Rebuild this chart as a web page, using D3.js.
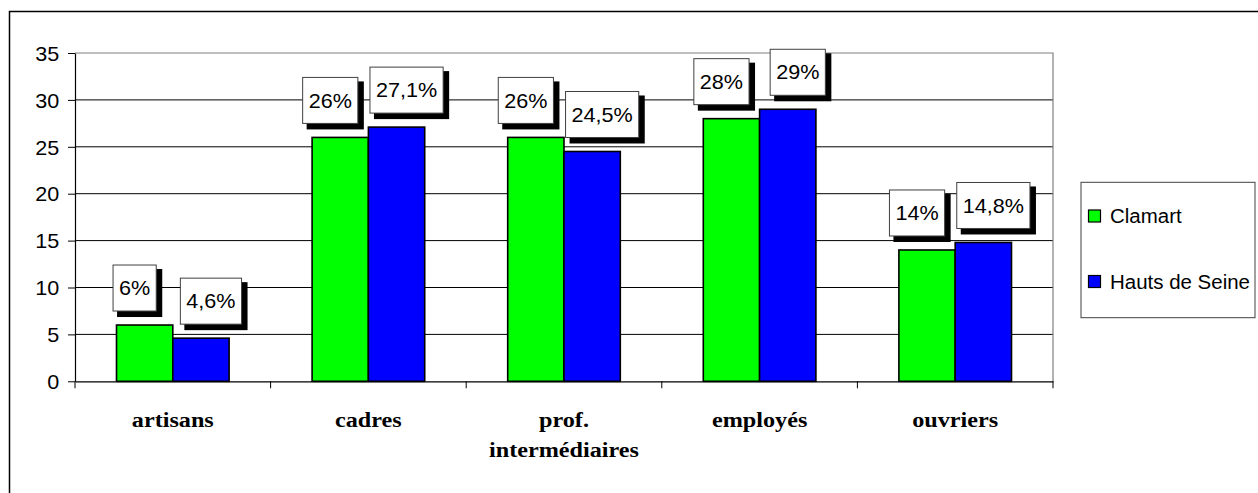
<!DOCTYPE html>
<html>
<head>
<meta charset="utf-8">
<script src="https://cdn.jsdelivr.net/npm/d3@7"></script>
<style>
  html, body { margin: 0; padding: 0; background: #fff; }
  svg { display: block; }
</style>
</head>
<body>
<svg id="chart" width="1258" height="493"></svg>
<script>
// ---- data ----
const categories = ["artisans", "cadres", "prof.\nintermédiaires", "employés", "ouvriers"];
const seriesNames = ["Clamart", "Hauts de Seine"];
const clamart = [6, 26, 26, 28, 14];
const hautsDeSeine = [4.6, 27.1, 24.5, 29, 14.8];
const clamartLabels = ["6%", "26%", "26%", "28%", "14%"];
const hautsLabels = ["4,6%", "27,1%", "24,5%", "29%", "14,8%"];
const yTicks = [0, 5, 10, 15, 20, 25, 30, 35];
const colors = ["#00ff00", "#0000ff"];

const STRETCH = 1.08; // slight horizontal text stretch seen in the reference
const svg = d3.select("#chart");

// outer frame
svg.append("rect").attr("x", 9.5).attr("y", 11.5).attr("width", 1260).attr("height", 500)
  .attr("fill", "none").attr("stroke", "#000").attr("stroke-width", 1.5);

const plot = { left: 75, right: 1053, top: 53, bottom: 381.3 };

const x0 = d3.scaleBand().domain(d3.range(categories.length))
  .range([plot.left, plot.right]).padding(0);
const x1 = d3.scaleBand().domain(d3.range(seriesNames.length))
  .range([0, x0.bandwidth()]).paddingInner(0).paddingOuter(0.737);
const y = d3.scaleLinear().domain([0, 35]).range([plot.bottom, plot.top]);

// gridlines
svg.append("g").selectAll("line").data(yTicks.filter(d => d > 0 && d < 35)).join("line")
  .attr("x1", plot.left).attr("x2", plot.right)
  .attr("y1", d => y(d)).attr("y2", d => y(d))
  .attr("stroke", "#000").attr("stroke-width", 1);

// plot border top & right (gray)
svg.append("path")
  .attr("d", `M${plot.left},${y(35)}H${plot.right}V${plot.bottom}`)
  .attr("fill", "none").attr("stroke", "#808080").attr("stroke-width", 1.2);

// y axis
const yAxis = svg.append("g").attr("transform", `translate(${plot.left},0)`)
  .call(d3.axisLeft(y).tickValues(yTicks).tickSize(7).tickSizeOuter(0));
yAxis.select(".domain").attr("stroke", "#000").attr("stroke-width", 1.2);
yAxis.selectAll(".tick line").attr("stroke", "#000");
yAxis.selectAll(".tick text")
  .attr("x", -15.7 / STRETCH).attr("dy", "0.36em")
  .attr("transform", `scale(${STRETCH},1)`)
  .style("font-family", "Liberation Sans, Arial, sans-serif")
  .style("font-size", "20px").attr("fill", "#000");

// x axis
const xAxis = svg.append("g").attr("transform", `translate(0,${plot.bottom})`)
  .call(d3.axisBottom(x0).tickSize(0).tickFormat(i => ""));
xAxis.select(".domain").attr("stroke", "#000").attr("stroke-width", 1.2);
// category boundary ticks
xAxis.append("g").selectAll("line").data(d3.range(categories.length + 1)).join("line")
  .attr("x1", i => plot.left + i * x0.step()).attr("x2", i => plot.left + i * x0.step())
  .attr("y1", 0).attr("y2", 7).attr("stroke", "#000").attr("stroke-width", 1);
xAxis.selectAll(".tick").each(function(i) {
  const t = d3.select(this).select("text").text(null)
    .attr("y", 45.4).attr("dy", null)
    .attr("transform", `scale(1.1,1)`)
    .attr("text-anchor", "middle")
    .style("font-family", "Liberation Serif, Times New Roman, serif")
    .style("font-weight", "bold").style("font-size", "22px").attr("fill", "#000");
  categories[i].split("\n").forEach((line, k) => {
    t.append("tspan").attr("x", 0).attr("dy", k === 0 ? 0 : 30.6).text(line);
  });
});

// bars
const seriesVals = [clamart, hautsDeSeine];
const seriesLabels = [clamartLabels, hautsLabels];
const barG = svg.append("g");
seriesVals.forEach((vals, s) => {
  barG.selectAll(null).data(vals).join("rect")
    .attr("x", (d, i) => x0(i) + x1(s))
    .attr("y", d => y(d))
    .attr("width", x1.bandwidth())
    .attr("height", d => y(0) - y(d))
    .attr("fill", colors[s]).attr("stroke", "#000").attr("stroke-width", 1.6);
});

// data labels (boxes with shadow)
const labelShift = [-10, 10];
const labelG = svg.append("g");
seriesVals.forEach((vals, s) => {
  vals.forEach((v, i) => {
    const cx = x0(i) + x1(s) + x1.bandwidth() / 2 + labelShift[s];
    const boxH = 46;
    const cy = y(v) - 14 - boxH / 2;
    const g = labelG.append("g").attr("transform", `translate(${cx},${cy})`);
    const shadow = g.append("rect");
    const box = g.append("rect");
    const txt = g.append("text")
      .attr("transform", `scale(${STRETCH},1)`)
      .attr("text-anchor", "middle").attr("dy", "0.36em")
      .style("font-family", "Liberation Sans, Arial, sans-serif")
      .style("font-size", "20px").attr("fill", "#000")
      .text(seriesLabels[s][i]);
    const w = txt.node().getComputedTextLength() * STRETCH + 12;
    shadow.attr("x", -w / 2 + 4).attr("y", -boxH / 2 + 4)
      .attr("width", w + 2).attr("height", boxH + 2).attr("fill", "#000");
    box.attr("x", -w / 2).attr("y", -boxH / 2).attr("width", w).attr("height", boxH)
      .attr("fill", "#fff").attr("stroke", "#404040").attr("stroke-width", 1);
  });
});

// legend
const lg = svg.append("g");
lg.append("rect").attr("x", 1081).attr("y", 182.3).attr("width", 174).attr("height", 135.4)
  .attr("fill", "#fff").attr("stroke", "#404040").attr("stroke-width", 1);
const legendY = [216, 281.5];
seriesNames.forEach((name, s) => {
  lg.append("rect").attr("x", 1088.5).attr("y", legendY[s] - 6).attr("width", 12).attr("height", 12)
    .attr("fill", colors[s]).attr("stroke", "#000").attr("stroke-width", 1.2);
  lg.append("text").attr("transform", `translate(1110,${legendY[s]}) scale(1.05,1)`)
    .attr("dy", "0.36em")
    .style("font-family", "Liberation Sans, Arial, sans-serif")
    .style("font-size", "19.5px").attr("fill", "#000").text(name);
});
</script>
</body>
</html>
